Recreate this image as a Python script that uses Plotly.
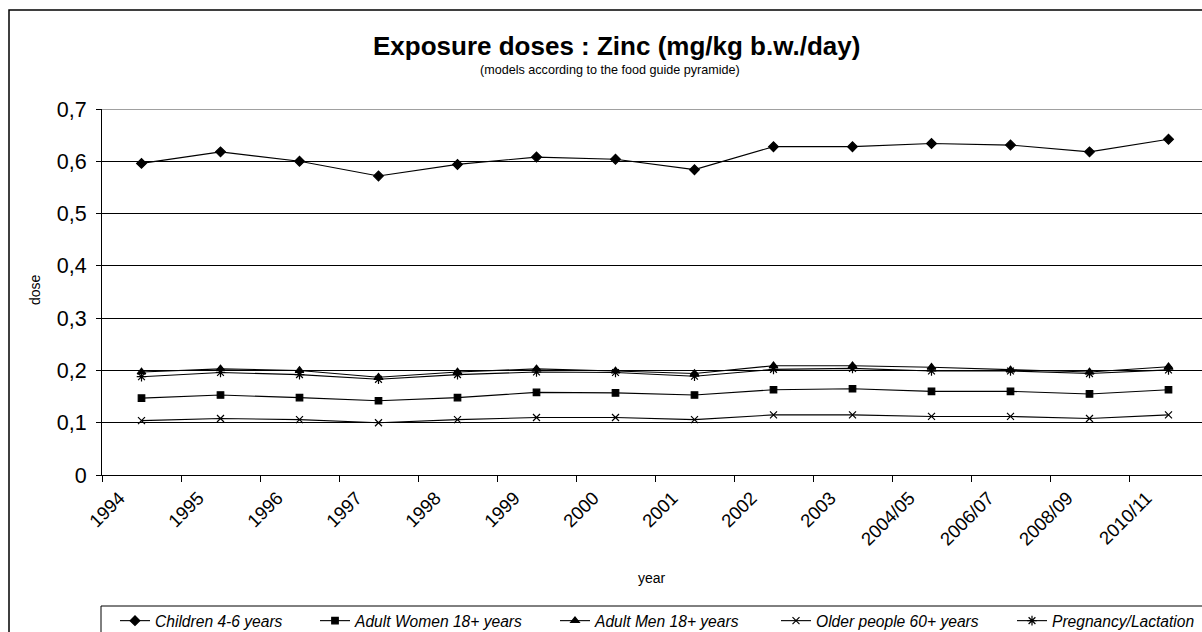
import plotly.graph_objects as go

categories = ["1994", "1995", "1996", "1997", "1998", "1999", "2000", "2001",
              "2002", "2003", "2004/05", "2006/07", "2008/09", "2010/11"]
children = [0.596, 0.618, 0.600, 0.572, 0.594, 0.608, 0.604, 0.584,
            0.628, 0.628, 0.634, 0.631, 0.618, 0.642]
women = [0.147, 0.153, 0.148, 0.142, 0.148, 0.158, 0.157, 0.153,
         0.163, 0.165, 0.160, 0.160, 0.155, 0.163]
men = [0.197, 0.203, 0.200, 0.187, 0.197, 0.203, 0.199, 0.194,
       0.209, 0.209, 0.206, 0.201, 0.197, 0.207]
older = [0.104, 0.108, 0.106, 0.100, 0.106, 0.110, 0.110, 0.106,
         0.115, 0.115, 0.112, 0.112, 0.108, 0.115]
pregnancy = [0.188, 0.196, 0.192, 0.183, 0.192, 0.197, 0.196, 0.189,
             0.202, 0.204, 0.199, 0.199, 0.194, 0.201]
y_ticks = [0, 0.1, 0.2, 0.3, 0.4, 0.5, 0.6, 0.7]
y_ticklabels = ["0", "0,1", "0,2", "0,3", "0,4", "0,5", "0,6", "0,7"]

FONT = "Liberation Sans, Arial, sans-serif"
W, H = 1202, 632
ML, MT, MB, MR = 102, 109, 157, 0
PW = W - ML - MR
PH = H - MT - MB


def px(x):
    return (x - ML) / PW


def py(y):
    return (H - MB - y) / PH


series = [
    ("Children 4-6 years", children, "diamond", 7.5),
    ("Adult Women 18+ years", women, "square", 6.5),
    ("Adult Men 18+ years", men, "triangle-up", 7.5),
    ("Older people 60+ years", older, "x-thin-open", 7),
    ("Pregnancy/Lactation", pregnancy, "asterisk-open", 8),
]
legend_left = [115, 315, 555, 776, 1012]

fig = go.Figure()
legend_layout = {}
for k, (name, vals, sym, size) in enumerate(series):
    lname = "legend" if k == 0 else f"legend{k + 1}"
    fig.add_trace(go.Scatter(
        x=categories, y=vals, name=name, mode="lines+markers",
        line=dict(color="#000000", width=1.1),
        marker=dict(symbol=sym, size=size, color="#000000",
                    line=dict(color="#000000", width=1.2)),
        legend=lname,
    ))
    legend_layout[lname] = dict(
        orientation="h", x=px(legend_left[k]), y=py(604),
        xanchor="left", yanchor="top", borderwidth=0,
        bgcolor="rgba(0,0,0,0)",
        font=dict(family=FONT, size=15.6, color="#000000", style="italic"),
    )

unit = 79.0
fig.update_xaxes(
    type="category", range=[-0.5, -0.5 + PW / unit],
    showline=True, linecolor="#000000", linewidth=1,
    ticks="outside", tickson="boundaries", ticklen=6, tickcolor="#000000",
    tickangle=-45, tickfont=dict(family=FONT, size=18.5, color="#000000"),
    ticklabelshift=-22, ticklabelstandoff=4,
    showgrid=False, zeroline=False, fixedrange=True,
)
fig.update_yaxes(
    range=[0, 0.7], tickvals=y_ticks, ticktext=y_ticklabels,
    showline=True, linecolor="#000000", linewidth=1,
    ticks="outside", ticklen=5, tickcolor="#000000",
    tickfont=dict(family=FONT, size=21.5, color="#000000"),
    ticklabelstandoff=5,
    showgrid=True, gridcolor="#000000", gridwidth=1,
    zeroline=False, fixedrange=True,
)

fig.add_shape(type="rect", xref="paper", yref="paper",
              x0=px(9), x1=px(1260), y0=py(10), y1=py(700),
              line=dict(color="#000000", width=1.5), layer="below")
fig.add_shape(type="rect", xref="paper", yref="paper",
              x0=px(101), x1=px(1260), y0=py(606), y1=py(700),
              line=dict(color="#000000", width=1), layer="below")
fig.add_shape(type="line", xref="paper", yref="y",
              x0=0, x1=1, y0=0.7, y1=0.7,
              line=dict(color="#808080", width=1.5), layer="below")

fig.add_annotation(text="<b>Exposure doses : Zinc (mg/kg b.w./day)</b>",
                   xref="paper", yref="paper", x=px(616), y=py(46),
                   showarrow=False, xanchor="center", yanchor="middle",
                   font=dict(family=FONT, size=26, color="#000000"))
fig.add_annotation(text="(models according to the food guide pyramide)",
                   xref="paper", yref="paper", x=px(610), y=py(70),
                   showarrow=False, xanchor="center", yanchor="middle",
                   font=dict(family=FONT, size=12.6, color="#000000"))
fig.add_annotation(text="dose", xref="paper", yref="paper",
                   x=px(35), y=py(290), textangle=-90, showarrow=False,
                   xanchor="center", yanchor="middle",
                   font=dict(family=FONT, size=14, color="#000000"))
fig.add_annotation(text="year", xref="paper", yref="paper",
                   x=px(652), y=py(578), showarrow=False,
                   xanchor="center", yanchor="middle",
                   font=dict(family=FONT, size=14, color="#000000"))

fig.update_layout(
    width=W, height=H,
    margin=dict(l=ML, r=MR, t=MT, b=MB, autoexpand=False),
    paper_bgcolor="#ffffff", plot_bgcolor="#ffffff",
    showlegend=True,
    **legend_layout,
)

fig.write_html("out.html",
               config={"displayModeBar": False},
               post_script="document.body.style.margin='0px';"
                           "document.body.style.overflow='hidden';")
